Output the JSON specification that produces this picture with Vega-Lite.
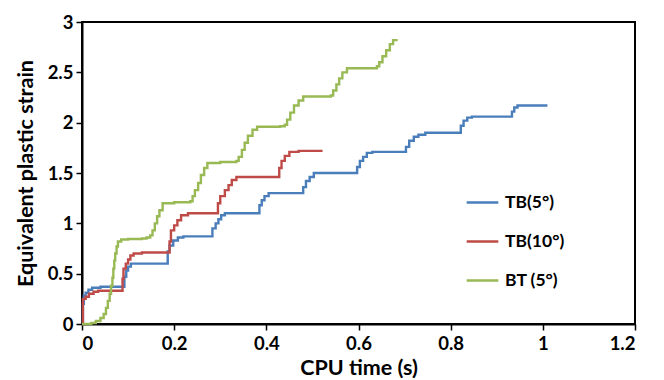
{
  "$schema": "https://vega.github.io/schema/vega-lite/v6.json",
  "width": 553,
  "height": 302,
  "autosize": {"type": "none"},
  "padding": {"left": 82, "top": 22, "right": 29, "bottom": 56},
  "background": "white",
  "config": {
    "font": "Lato",
    "view": {"stroke": "black", "strokeWidth": 2},
    "axis": {
      "grid": false,
      "domainColor": "black",
      "domainWidth": 2,
      "tickColor": "black",
      "tickWidth": 1.5,
      "tickSize": 6,
      "labelFont": "Lato",
      "labelFontSize": 18.5,
      "labelFontWeight": "bold",
      "labelColor": "black",
      "titleFont": "Lato",
      "titleFontSize": 21.5,
      "titleFontWeight": "bold",
      "titleColor": "black"
    },
    "legend": {
      "labelFont": "Lato",
      "labelFontSize": 17.5,
      "labelFontWeight": "bold",
      "labelColor": "black"
    }
  },
  "data": {
    "values": [
      {"s": "TB(5°)", "t": 0, "e": 0},
      {"s": "TB(5°)", "t": 0.002, "e": 0.2},
      {"s": "TB(5°)", "t": 0.004, "e": 0.28},
      {"s": "TB(5°)", "t": 0.008, "e": 0.31},
      {"s": "TB(5°)", "t": 0.014, "e": 0.34},
      {"s": "TB(5°)", "t": 0.022, "e": 0.36},
      {"s": "TB(5°)", "t": 0.04, "e": 0.37},
      {"s": "TB(5°)", "t": 0.092, "e": 0.47},
      {"s": "TB(5°)", "t": 0.096, "e": 0.53},
      {"s": "TB(5°)", "t": 0.1, "e": 0.57},
      {"s": "TB(5°)", "t": 0.106, "e": 0.6},
      {"s": "TB(5°)", "t": 0.186, "e": 0.72},
      {"s": "TB(5°)", "t": 0.19, "e": 0.78},
      {"s": "TB(5°)", "t": 0.198, "e": 0.83},
      {"s": "TB(5°)", "t": 0.208, "e": 0.86},
      {"s": "TB(5°)", "t": 0.22, "e": 0.87},
      {"s": "TB(5°)", "t": 0.283, "e": 0.95},
      {"s": "TB(5°)", "t": 0.29, "e": 1.0},
      {"s": "TB(5°)", "t": 0.296, "e": 1.04},
      {"s": "TB(5°)", "t": 0.302, "e": 1.08},
      {"s": "TB(5°)", "t": 0.31, "e": 1.1},
      {"s": "TB(5°)", "t": 0.385, "e": 1.18},
      {"s": "TB(5°)", "t": 0.39, "e": 1.23},
      {"s": "TB(5°)", "t": 0.396, "e": 1.27},
      {"s": "TB(5°)", "t": 0.405, "e": 1.3},
      {"s": "TB(5°)", "t": 0.48, "e": 1.36},
      {"s": "TB(5°)", "t": 0.486, "e": 1.42},
      {"s": "TB(5°)", "t": 0.494, "e": 1.46},
      {"s": "TB(5°)", "t": 0.503, "e": 1.5},
      {"s": "TB(5°)", "t": 0.597, "e": 1.56},
      {"s": "TB(5°)", "t": 0.603, "e": 1.62},
      {"s": "TB(5°)", "t": 0.61, "e": 1.66},
      {"s": "TB(5°)", "t": 0.618, "e": 1.7},
      {"s": "TB(5°)", "t": 0.63, "e": 1.71},
      {"s": "TB(5°)", "t": 0.703, "e": 1.76},
      {"s": "TB(5°)", "t": 0.71, "e": 1.82},
      {"s": "TB(5°)", "t": 0.72, "e": 1.86},
      {"s": "TB(5°)", "t": 0.73, "e": 1.88},
      {"s": "TB(5°)", "t": 0.745, "e": 1.9},
      {"s": "TB(5°)", "t": 0.822, "e": 1.97},
      {"s": "TB(5°)", "t": 0.828, "e": 2.02},
      {"s": "TB(5°)", "t": 0.836, "e": 2.05},
      {"s": "TB(5°)", "t": 0.846, "e": 2.06},
      {"s": "TB(5°)", "t": 0.933, "e": 2.11},
      {"s": "TB(5°)", "t": 0.938, "e": 2.15},
      {"s": "TB(5°)", "t": 0.945, "e": 2.17},
      {"s": "TB(5°)", "t": 1.01, "e": 2.17},

      {"s": "TB(10°)", "t": 0, "e": 0},
      {"s": "TB(10°)", "t": 0.002, "e": 0.25},
      {"s": "TB(10°)", "t": 0.008, "e": 0.27},
      {"s": "TB(10°)", "t": 0.015, "e": 0.3},
      {"s": "TB(10°)", "t": 0.025, "e": 0.32},
      {"s": "TB(10°)", "t": 0.035, "e": 0.33},
      {"s": "TB(10°)", "t": 0.088, "e": 0.45},
      {"s": "TB(10°)", "t": 0.09, "e": 0.55},
      {"s": "TB(10°)", "t": 0.095, "e": 0.6},
      {"s": "TB(10°)", "t": 0.1, "e": 0.64},
      {"s": "TB(10°)", "t": 0.105, "e": 0.68},
      {"s": "TB(10°)", "t": 0.112, "e": 0.7},
      {"s": "TB(10°)", "t": 0.13, "e": 0.71},
      {"s": "TB(10°)", "t": 0.19, "e": 0.82},
      {"s": "TB(10°)", "t": 0.193, "e": 0.93},
      {"s": "TB(10°)", "t": 0.2, "e": 0.98},
      {"s": "TB(10°)", "t": 0.207, "e": 1.03},
      {"s": "TB(10°)", "t": 0.215, "e": 1.08},
      {"s": "TB(10°)", "t": 0.23, "e": 1.1},
      {"s": "TB(10°)", "t": 0.295, "e": 1.2},
      {"s": "TB(10°)", "t": 0.3, "e": 1.27},
      {"s": "TB(10°)", "t": 0.31, "e": 1.33},
      {"s": "TB(10°)", "t": 0.318, "e": 1.38},
      {"s": "TB(10°)", "t": 0.325, "e": 1.43},
      {"s": "TB(10°)", "t": 0.335, "e": 1.46},
      {"s": "TB(10°)", "t": 0.428, "e": 1.55},
      {"s": "TB(10°)", "t": 0.433, "e": 1.62},
      {"s": "TB(10°)", "t": 0.44, "e": 1.67},
      {"s": "TB(10°)", "t": 0.45, "e": 1.71},
      {"s": "TB(10°)", "t": 0.47, "e": 1.72},
      {"s": "TB(10°)", "t": 0.522, "e": 1.72},

      {"s": "BT (5°)", "t": 0, "e": 0},
      {"s": "BT (5°)", "t": 0.01, "e": 0.0},
      {"s": "BT (5°)", "t": 0.02, "e": 0.01},
      {"s": "BT (5°)", "t": 0.03, "e": 0.03},
      {"s": "BT (5°)", "t": 0.04, "e": 0.06},
      {"s": "BT (5°)", "t": 0.047, "e": 0.1},
      {"s": "BT (5°)", "t": 0.052, "e": 0.16},
      {"s": "BT (5°)", "t": 0.056, "e": 0.23},
      {"s": "BT (5°)", "t": 0.06, "e": 0.3},
      {"s": "BT (5°)", "t": 0.063, "e": 0.38},
      {"s": "BT (5°)", "t": 0.066, "e": 0.46},
      {"s": "BT (5°)", "t": 0.068, "e": 0.55},
      {"s": "BT (5°)", "t": 0.07, "e": 0.63},
      {"s": "BT (5°)", "t": 0.072, "e": 0.7},
      {"s": "BT (5°)", "t": 0.075, "e": 0.77},
      {"s": "BT (5°)", "t": 0.078, "e": 0.82},
      {"s": "BT (5°)", "t": 0.085, "e": 0.84},
      {"s": "BT (5°)", "t": 0.1, "e": 0.845},
      {"s": "BT (5°)", "t": 0.13, "e": 0.85},
      {"s": "BT (5°)", "t": 0.14, "e": 0.86},
      {"s": "BT (5°)", "t": 0.148, "e": 0.88},
      {"s": "BT (5°)", "t": 0.153, "e": 0.93},
      {"s": "BT (5°)", "t": 0.158, "e": 1.0},
      {"s": "BT (5°)", "t": 0.163, "e": 1.07},
      {"s": "BT (5°)", "t": 0.168, "e": 1.13},
      {"s": "BT (5°)", "t": 0.175, "e": 1.2},
      {"s": "BT (5°)", "t": 0.2, "e": 1.21},
      {"s": "BT (5°)", "t": 0.235, "e": 1.22},
      {"s": "BT (5°)", "t": 0.24, "e": 1.27},
      {"s": "BT (5°)", "t": 0.245, "e": 1.33},
      {"s": "BT (5°)", "t": 0.252, "e": 1.4},
      {"s": "BT (5°)", "t": 0.258, "e": 1.48},
      {"s": "BT (5°)", "t": 0.265, "e": 1.55},
      {"s": "BT (5°)", "t": 0.272, "e": 1.6},
      {"s": "BT (5°)", "t": 0.3, "e": 1.61},
      {"s": "BT (5°)", "t": 0.335, "e": 1.62},
      {"s": "BT (5°)", "t": 0.34, "e": 1.66},
      {"s": "BT (5°)", "t": 0.347, "e": 1.73},
      {"s": "BT (5°)", "t": 0.353, "e": 1.8},
      {"s": "BT (5°)", "t": 0.36, "e": 1.87},
      {"s": "BT (5°)", "t": 0.37, "e": 1.93},
      {"s": "BT (5°)", "t": 0.38, "e": 1.96},
      {"s": "BT (5°)", "t": 0.43, "e": 1.965},
      {"s": "BT (5°)", "t": 0.44, "e": 1.98},
      {"s": "BT (5°)", "t": 0.445, "e": 2.03},
      {"s": "BT (5°)", "t": 0.452, "e": 2.1},
      {"s": "BT (5°)", "t": 0.46, "e": 2.17},
      {"s": "BT (5°)", "t": 0.47, "e": 2.22},
      {"s": "BT (5°)", "t": 0.48, "e": 2.26},
      {"s": "BT (5°)", "t": 0.54, "e": 2.27},
      {"s": "BT (5°)", "t": 0.545, "e": 2.32},
      {"s": "BT (5°)", "t": 0.552, "e": 2.38},
      {"s": "BT (5°)", "t": 0.558, "e": 2.44},
      {"s": "BT (5°)", "t": 0.565, "e": 2.5},
      {"s": "BT (5°)", "t": 0.575, "e": 2.54},
      {"s": "BT (5°)", "t": 0.64, "e": 2.56},
      {"s": "BT (5°)", "t": 0.645, "e": 2.6},
      {"s": "BT (5°)", "t": 0.652, "e": 2.66},
      {"s": "BT (5°)", "t": 0.66, "e": 2.72},
      {"s": "BT (5°)", "t": 0.668, "e": 2.78},
      {"s": "BT (5°)", "t": 0.675, "e": 2.82},
      {"s": "BT (5°)", "t": 0.685, "e": 2.82}
    ]
  },
  "mark": {"type": "line", "interpolate": "step-after", "strokeWidth": 2.4},
  "encoding": {
    "x": {
      "field": "t",
      "type": "quantitative",
      "title": "CPU time (s)",
      "scale": {"domain": [0, 1.2], "nice": false},
      "axis": {"values": [0, 0.2, 0.4, 0.6, 0.8, 1, 1.2], "format": "~g", "labelPadding": 4, "titlePadding": 5}
    },
    "y": {
      "field": "e",
      "type": "quantitative",
      "title": "Equivalent plastic strain",
      "scale": {"domain": [0, 3], "nice": false},
      "axis": {"values": [0, 0.5, 1, 1.5, 2, 2.5, 3], "format": "~g", "labelPadding": 3, "titlePadding": 10}
    },
    "color": {
      "field": "s",
      "type": "nominal",
      "sort": null,
      "scale": {"domain": ["TB(5°)", "TB(10°)", "BT (5°)"], "range": ["#4A7EBB", "#BE4B48", "#98B954"]},
      "legend": {
        "title": null,
        "orient": "none",
        "legendX": 383,
        "legendY": 163,
        "symbolType": "stroke",
        "symbolSize": 1000,
        "symbolStrokeWidth": 2.5,
        "rowPadding": 13,
        "labelOffset": 5
      }
    }
  }
}
